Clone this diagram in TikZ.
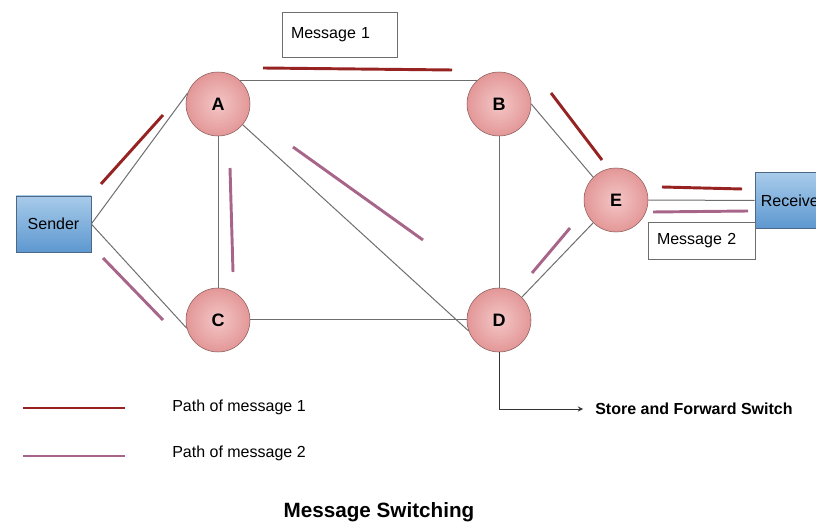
\documentclass[tikz,border=0pt]{standalone}
\usepackage{fontspec}
\setmainfont{Liberation Sans}
\usetikzlibrary{shapes.geometric, arrows}
\definecolor{nodepink}{HTML}{E39797}
\definecolor{nodepinkL}{HTML}{F4C6C6}
\definecolor{nodeedge}{HTML}{8A5C5C}
\definecolor{boxblue}{HTML}{5D98D0}
\definecolor{boxblueL}{HTML}{A8CBEA}
\definecolor{boxedge}{HTML}{4D6785}
\definecolor{msgred}{HTML}{962222}
\definecolor{msgpurple}{HTML}{A8658A}
\definecolor{linkgray}{HTML}{6E6E6E}
\tikzstyle{switch} = [circle, minimum size=48pt, inner sep=0pt, draw=nodeedge, shading=radial, inner color=nodepinkL, outer color=nodepink, font=\fontsize{13.5pt}{15pt}\selectfont\bfseries]
\tikzstyle{host} = [rectangle, minimum width=56.25pt, minimum height=42pt, inner sep=0pt, draw=boxedge, top color=boxblueL, bottom color=boxblue, font=\fontsize{12pt}{14pt}\selectfont]
\tikzstyle{msgbox} = [rectangle, draw=linkgray, fill=white, inner xsep=6.75pt, align=left, font=\fontsize{12pt}{14pt}\selectfont]
\tikzstyle{link} = [draw=linkgray, line width=0.75pt]
\tikzstyle{pathone} = [msgred, line width=2.2pt]
\tikzstyle{pathtwo} = [msgpurple, line width=2.2pt]
\tikzstyle{txt} = [font=\fontsize{12pt}{14pt}\selectfont, inner sep=0pt]
\tikzstyle{arrow} = [->,>=stealth, draw=black!80, line width=0.75pt]

\begin{document}
\begin{tikzpicture}[x=0.75pt, y=-0.75pt]
            \useasboundingbox (0,0) rectangle (816,523);
            \clip (0,0) rectangle (816,523);
            \node [msgbox, text width=72.75pt, minimum height=33.75pt] at (339.5,34.5) (msg1) {Message 1};
            \node [host] at (53.5,224) (sender) {Sender};
            \node [host] at (792.5,200.5) (receiver) {Receiver};
            \node [switch] at (218,104) (A) {A};
            \node [switch] at (499,104) (B) {B};
            \node [switch] at (218,320) (C) {C};
            \node [switch] at (499,320) (D) {D};
            \node [switch] at (616,200) (E) {E};
            \node [msgbox, text width=66.75pt, minimum height=27.75pt] at (701.5,240.5) (msg2) {Message 2};
            % links
            \draw [link] (sender.east) -- (A.160);
            \draw [link] (sender.east) -- (C.195);
            \draw [link] (A.46) -- (B.134);
            \draw [link] (A) -- (C);
            \draw [link] (A.320) -- (D.200);
            \draw [link] (B) -- (D);
            \draw [link] (C) -- (D);
            \draw [link] (B.east) -- (E.135);
            \draw [link] (D.45) -- (E.225);
            \draw [link] (E) -- (receiver);
            % paths of the two messages
            \draw [pathone] (101,184) -- (163,115);
            \draw [pathone] (263,68) -- (452,70);
            \draw [pathone] (551,93) -- (602,160);
            \draw [pathone] (662,187) -- (742,189);
            \draw [pathtwo] (103,258) -- (163,320);
            \draw [pathtwo] (230,168) -- (233,272);
            \draw [pathtwo] (293,147) -- (423,240);
            \draw [pathtwo] (532,273) -- (570,228);
            \draw [pathtwo] (653,212) -- (748,211);
            % store and forward
            \node [txt, anchor=west, inner xsep=9pt, font=\fontsize{12pt}{14pt}\selectfont\bfseries] at (583,409) (store) {Store and Forward Switch};
            \draw [arrow] (D) |- (store.west);
            % legend
            \draw [pathone] (23,408) -- (125,408);
            \node [txt, anchor=west] at (172,407) (leg1) {Path of message 1};
            \draw [pathtwo] (23,456) -- (125,456);
            \node [txt, anchor=west] at (172,453) (leg2) {Path of message 2};
            \node [txt, font=\fontsize{15.5pt}{18pt}\selectfont\bfseries] at (379,512) (title) {Message Switching};
            \end{tikzpicture}
\end{document}
